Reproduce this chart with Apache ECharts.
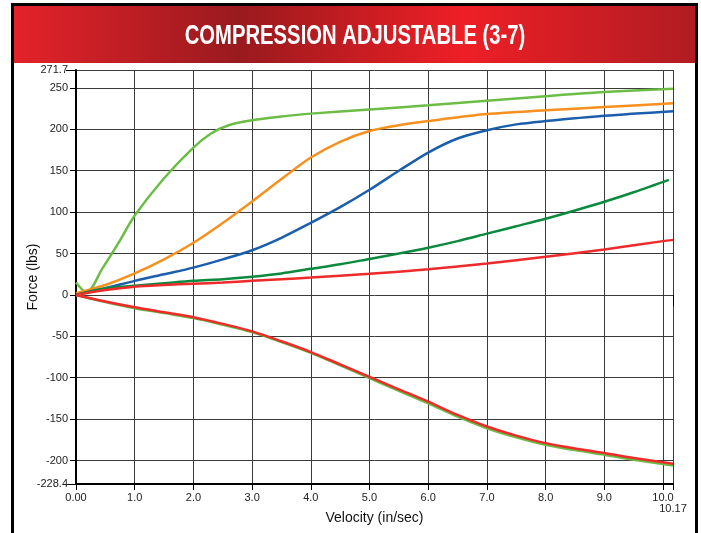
<!DOCTYPE html>
<html>
<head>
<meta charset="utf-8">
<title>Compression Adjustable (3-7)</title>
<script src="https://cdn.jsdelivr.net/npm/echarts@6/dist/echarts.min.js"></script>
<style>
html, body { margin: 0; padding: 0; background: #fff; }
#chart { width: 701px; height: 533px; }
</style>
</head>
<body>
<div id="chart"></div>
<script>
// tick values
const xTicks = [0, 1, 2, 3, 4, 5, 6, 7, 8, 9, 10, 10.17];
const xLabels = [0, 1, 2, 3, 4, 5, 6, 7, 8, 9, 10];
const xEnd = [10.17];
const yTicks = [-228.4, -200, -150, -100, -50, 0, 50, 100, 150, 200, 250, 271.7];
const yEnds = [-228.4, 271.7];

// compression curves [velocity, force]
const lightGreenComp = [[0,15],[0.18,3],[0.45,32],[0.75,66],[1,96],[1.5,141],[2,178],[2.3,195],[2.6,205],[3,211],[3.5,215.5],[4,219],[5,224],[6,229],[7,234.5],[8,240],[9,245],[10.17,249]];
const orangeComp = [[0,2],[0.5,12],[1,26],[1.5,43],[2,63],[2.5,87],[3,113],[3.5,140],[4,166],[4.5,185],[5,198],[5.5,205],[6,210],[7,218.5],[8,223],[9,227],[10.17,231.5]];
const blueComp = [[0,0],[0.5,8],[1,17],[1.5,25],[2,33],[2.5,43],[3,54],[3.5,69],[4,87],[4.5,106],[5,127],[5.5,150],[6,172],[6.5,189],[7,199],[7.5,206],[8,210],[9,216.5],[10.17,222]];
const darkGreenComp = [[0,0],[0.5,8],[1,11],[1.5,14],[2,17],[2.5,19],[3,22],[3.5,26],[4,31.5],[4.5,37],[5,43.5],[5.5,50],[6,57],[6.5,65],[7,74],[7.5,83],[8,92],[8.5,102],[9,112.5],[9.5,124],[10.1,139]];
const redComp = [[0,0],[0.5,6],[1,10],[1.5,12],[2,13.5],[2.5,15],[3,17],[3.5,19],[4,21],[5,25.5],[6,31],[7,38],[8,46],[9,55],[10,65],[10.17,66.5]];

// rebound curves
const lightGreenReb = [[0,0],[0.5,-8.5],[1,-16],[1.5,-22],[2,-28],[2.5,-36],[3,-45],[3.5,-57],[4,-70],[4.5,-85],[5,-100.5],[5.5,-116],[6,-131],[6.5,-147],[7,-161],[7.5,-172],[8,-181],[8.5,-187.5],[9,-193],[9.5,-199],[10.17,-206]];
const redReb = [[0,0],[0.5,-8],[1,-15],[1.5,-21],[2,-27],[2.5,-35],[3,-44],[3.5,-56],[4,-69],[4.5,-84],[5,-99],[5.5,-114],[6,-129],[6.5,-145],[7,-159],[7.5,-170],[8,-179],[8.5,-185.5],[9,-191],[9.5,-197],[10.17,-204]];

const chart = echarts.init(document.getElementById('chart'));

function curve(data, color) {
    return {
        type: 'line',
        data: data,
        smooth: 0.3,
        symbol: 'none',
        silent: true,
        lineStyle: { color: color, width: 2.5 }
    };
}

const labelFont = 'Liberation Sans, Arial, sans-serif';
const tickLabel = { fontFamily: labelFont, fontSize: 11, color: '#222', hideOverlap: false, showMinLabel: true, showMaxLabel: true };

chart.setOption({
    animation: false,
    backgroundColor: '#fff',
    graphic: [
        {
            type: 'rect',
            shape: { x: 14, y: 6, width: 681, height: 57 },
            style: {
                fill: new echarts.graphic.LinearGradient(0, 0, 1, 0, [
                    { offset: 0, color: '#e4222a' },
                    { offset: 0.33, color: '#991a1e' },
                    { offset: 0.66, color: '#ee1f26' },
                    { offset: 1, color: '#b01c22' }
                ])
            }
        },
        {
            type: 'rect',
            shape: { x: 12.5, y: 4.5, width: 684, height: 560 },
            style: { fill: null, stroke: '#000', lineWidth: 3 }
        },
        {
            type: 'text',
            x: 355,
            y: 37,
            scaleX: 0.75,
            style: {
                text: 'COMPRESSION ADJUSTABLE (3-7)',
                fill: '#fff',
                font: 'bold 27px "Liberation Sans", Arial, sans-serif',
                textAlign: 'center',
                textVerticalAlign: 'middle'
            }
        }
    ],
    grid: { left: 76, right: 28, top: 70, bottom: 49, outerBoundsMode: 'none', containLabel: false },
    xAxis: [{
        type: 'value',
        min: 0,
        max: 10.17,
        name: 'Velocity (in/sec)',
        nameLocation: 'middle',
        nameGap: 27,
        nameMoveOverlap: false,
        nameTextStyle: { fontFamily: labelFont, fontSize: 14, color: '#111' },
        axisLine: { onZero: false, lineStyle: { color: '#000', width: 2 } },
        axisTick: { show: true, length: 6, customValues: xTicks, lineStyle: { color: '#000' } },
        axisLabel: Object.assign({
            customValues: xLabels,
            margin: 8,
            formatter: function (v) { return v === 0 ? '0.00' : v.toFixed(1); }
        }, tickLabel),
        splitLine: { show: true, lineStyle: { color: '#3a3a3a', width: 1 } }
    }, {
        type: 'value',
        min: 0,
        max: 10.17,
        position: 'bottom',
        axisLine: { show: false },
        axisTick: { show: true, length: 11, customValues: xEnd, lineStyle: { color: '#000' } },
        axisLabel: Object.assign({
            customValues: xEnd,
            margin: 19,
            formatter: function (v) { return v.toFixed(2); }
        }, tickLabel),
        splitLine: { show: false }
    }],
    yAxis: [{
        type: 'value',
        min: -228.4,
        max: 271.7,
        name: 'Force (lbs)',
        nameLocation: 'middle',
        nameGap: 36,
        nameMoveOverlap: false,
        nameTextStyle: { fontFamily: labelFont, fontSize: 14, color: '#111' },
        axisLine: { show: true, onZero: false, lineStyle: { color: '#000', width: 2 } },
        axisTick: { show: true, length: 6, customValues: yTicks, lineStyle: { color: '#000' } },
        axisLabel: Object.assign({
            customValues: yTicks,
            margin: 8,
            formatter: function (v) { return String(v); }
        }, tickLabel),
        splitLine: { show: true, lineStyle: { color: '#3a3a3a', width: 1 } }
    }, {
        type: 'value',
        min: -228.4,
        max: 271.7,
        position: 'left',
        axisLine: { show: false },
        axisTick: { show: true, length: 10, customValues: yEnds, lineStyle: { color: '#000' } },
        axisLabel: { show: false },
        splitLine: { show: false }
    }],
    series: [
        curve(lightGreenComp, '#6cbd45'),
        curve(orangeComp, '#f7901e'),
        curve(blueComp, '#1b5eab'),
        curve(darkGreenComp, '#0b8a3e'),
        curve(redComp, '#ee2a2a'),
        curve(lightGreenReb, '#6cbd45'),
        curve(redReb, '#ee2a2a')
    ]
});
</script>
</body>
</html>
